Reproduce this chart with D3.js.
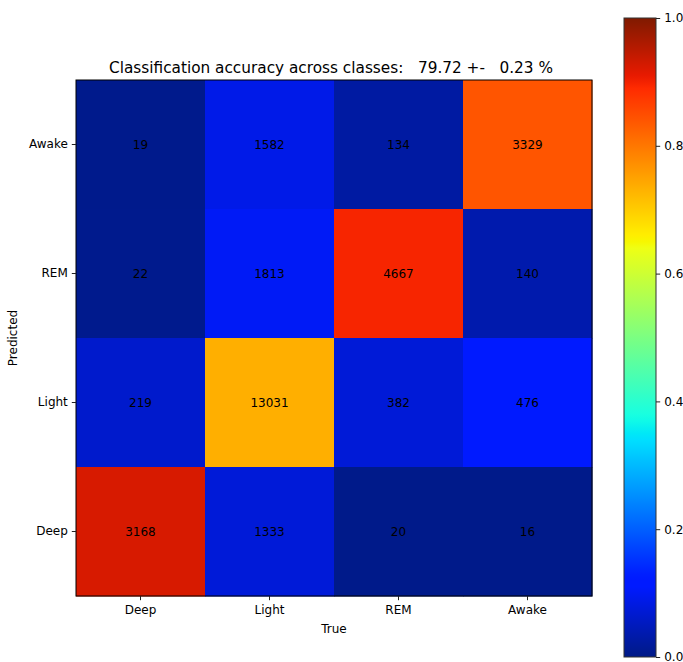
<!DOCTYPE html>
<html><head><meta charset="utf-8">
<script src="https://cdn.jsdelivr.net/npm/d3@7"></script>
<style>body{margin:0;background:#fff}text{font-family:"DejaVu Sans",sans-serif;fill:#000}</style>
</head><body>
<svg id="c" width="683" height="662"></svg>
<script>
const trueClasses = ["Deep","Light","REM","Awake"];
const predClasses = ["Awake","REM","Light","Deep"]; // top to bottom
// counts[predIndex][trueIndex], rows follow predClasses order
const rowAwake = [19, 1582, 134, 3329];
const rowREM = [22, 1813, 4667, 140];
const rowLight = [219, 13031, 382, 476];
const rowDeep = [3168, 1333, 20, 16];
const counts = [rowAwake, rowREM, rowLight, rowDeep];
const titleText = "Classification accuracy across classes:   79.72 +-   0.23 %";
const cbTicks = [0, 0.2, 0.4, 0.6, 0.8, 1.0];

function seg(pts, x){
  for(let i=1;i<pts.length;i++){
    if(x<=pts[i][0]){const [x0,y0]=pts[i-1],[x1,y1]=pts[i];return y0+(y1-y0)*(x-x0)/(x1-x0);}
  }
  return pts[pts.length-1][1];
}
const R=[[0,0],[0.35,0],[0.66,1],[0.89,1],[1,0.5]];
const G=[[0,0],[0.125,0],[0.375,1],[0.64,1],[0.91,0],[1,0]];
const B=[[0,0.5],[0.11,1],[0.34,1],[0.65,0],[1,0]];
function jet(t){
  t=Math.max(0,Math.min(1,t));
  const r=255*seg(R,t), g=255*seg(G,t), b=255*seg(B,t);
  const g2 = g + 26*(1-g/255);
  const b2 = b + 12*(1-b/255)*(b>0?1:0);
  return d3.rgb(r,g2,b2).formatHex();
}

const colSums = trueClasses.map((_,j)=>d3.sum(counts,r=>r[j]));
const svg = d3.select("#c");
const L=76, T=80, W=516, H=516;
const FS="12px";
const x = d3.scaleBand().domain(trueClasses).range([L,L+W]);
const y = d3.scaleBand().domain(predClasses).range([T,T+H]);
const cells=[];
counts.forEach((row,i)=>row.forEach((v,j)=>cells.push({p:predClasses[i],t:trueClasses[j],v,n:v/colSums[j]})));
svg.append("g").selectAll("rect").data(cells).join("rect")
  .attr("x",d=>x(d.t)).attr("y",d=>y(d.p)).attr("width",x.bandwidth()+0.5).attr("height",y.bandwidth()+0.5)
  .attr("fill",d=>jet(d.n));
svg.append("g").selectAll("text").data(cells).join("text")
  .attr("x",d=>x(d.t)+x.bandwidth()/2).attr("y",d=>y(d.p)+y.bandwidth()/2)
  .attr("text-anchor","middle").attr("dominant-baseline","central").style("font-size",FS).text(d=>d.v);
svg.append("rect").attr("x",L).attr("y",T).attr("width",W).attr("height",H).attr("fill","none").attr("stroke","#000").attr("stroke-width",1);

const xa = svg.append("g").attr("transform",`translate(0,${T+H})`).call(d3.axisBottom(x).tickSize(4.2).tickPadding(5));
const ya = svg.append("g").attr("transform",`translate(${L},0)`).call(d3.axisLeft(y).tickSize(4.2).tickPadding(4));
[xa,ya].forEach(a=>{a.select(".domain").remove();a.selectAll("text").style("font-size",FS).style("font-family","DejaVu Sans").attr("fill","#222");a.selectAll("line").attr("stroke","#222");});

svg.append("text").attr("x",331).attr("y",72.5).attr("text-anchor","middle").style("font-size","15.3px").style("white-space","pre").text(titleText);
svg.append("text").attr("x",L+W/2).attr("y",633).attr("text-anchor","middle").style("font-size",FS).text("True");
svg.append("text").attr("transform",`translate(17,${T+H/2}) rotate(-90)`).attr("text-anchor","middle").style("font-size",FS).text("Predicted");

// colorbar
const cbX=624, cbW=32, cbT=18, cbB=657;
const grad = svg.append("defs").append("linearGradient").attr("id","jg").attr("x1",0).attr("y1",1).attr("x2",0).attr("y2",0);
d3.range(0,1.0001,0.01).forEach(t=>grad.append("stop").attr("offset",t).attr("stop-color",jet(t)));
svg.append("rect").attr("x",cbX).attr("y",cbT).attr("width",cbW).attr("height",cbB-cbT).attr("fill","url(#jg)").attr("stroke","#333").attr("stroke-width",1);
const cy = d3.scaleLinear().domain([0,1]).range([cbB,cbT]);
const ca = svg.append("g").attr("transform",`translate(${cbX+cbW},0)`).call(d3.axisRight(cy).tickValues(cbTicks).tickFormat(d3.format(".1f")).tickSize(4.2).tickPadding(4));
ca.select(".domain").remove();
ca.selectAll("text").style("font-size",FS).style("font-family","DejaVu Sans").attr("fill","#222");
ca.selectAll("line").attr("stroke","#222");
</script>
</body></html>
